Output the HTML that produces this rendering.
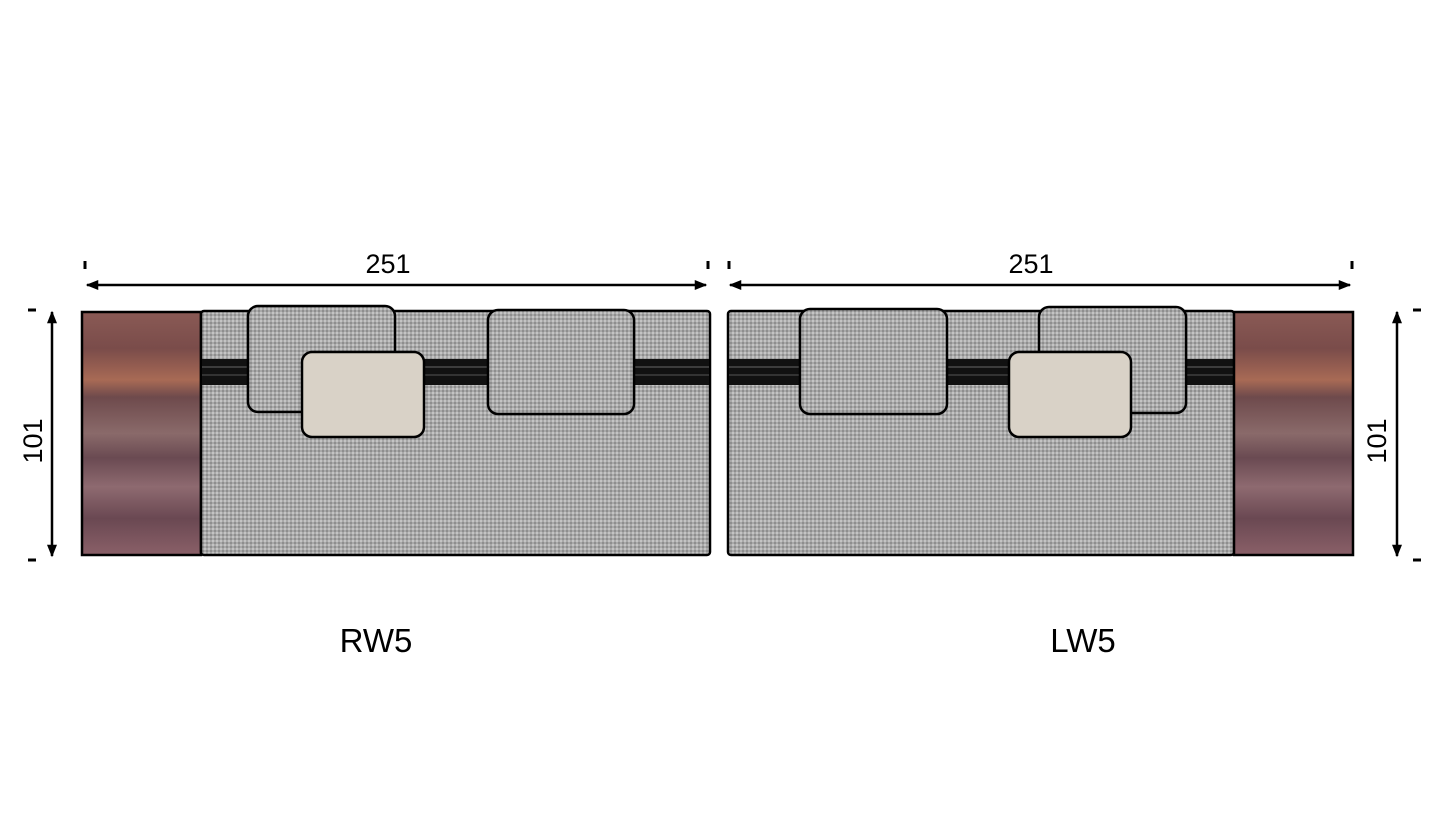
<!DOCTYPE html>
<html><head><meta charset="utf-8"><style>
html,body{margin:0;padding:0;background:#fff;}
svg{display:block;font-family:"Liberation Sans",sans-serif;}
</style></head><body>
<svg width="1445" height="813" viewBox="0 0 1445 813" xmlns="http://www.w3.org/2000/svg">
<defs>
<pattern id="fab" width="4" height="4" patternUnits="userSpaceOnUse">
<rect width="4" height="4" fill="#a9a9a9"/>
<rect width="2" height="2" fill="#c4c4c4"/>
<rect x="2" y="2" width="2" height="2" fill="#8e8e8e"/>
</pattern>
<linearGradient id="wood" x1="0" y1="0" x2="0" y2="1">
<stop offset="0" stop-color="#8a5a55"/>
<stop offset="0.15" stop-color="#7a4c4a"/>
<stop offset="0.28" stop-color="#a86a55"/>
<stop offset="0.35" stop-color="#6e4a4c"/>
<stop offset="0.5" stop-color="#8a6a6a"/>
<stop offset="0.6" stop-color="#6a4a52"/>
<stop offset="0.72" stop-color="#8e6a70"/>
<stop offset="0.85" stop-color="#6a4852"/>
<stop offset="1" stop-color="#8a6068"/>
</linearGradient>
<marker id="ar" viewBox="0 0 10 10" refX="9" refY="5" markerWidth="6" markerHeight="5" orient="auto-start-reverse"><path d="M0,1 L10,5 L0,9 z" fill="#000"/></marker>
</defs>

<g stroke="#000" stroke-width="2.5" fill="none">
<line x1="87" y1="285" x2="706" y2="285" marker-start="url(#ar)" marker-end="url(#ar)"/>
<line x1="730" y1="285" x2="1350" y2="285" marker-start="url(#ar)" marker-end="url(#ar)"/>
<line x1="52" y1="312" x2="52" y2="556" marker-start="url(#ar)" marker-end="url(#ar)"/>
<line x1="1397" y1="312" x2="1397" y2="556" marker-start="url(#ar)" marker-end="url(#ar)"/>
</g>
<g stroke="#000" stroke-width="3">
<line x1="85" y1="261" x2="85" y2="269"/><line x1="708" y1="261" x2="708" y2="269"/>
<line x1="729" y1="261" x2="729" y2="269"/><line x1="1352" y1="261" x2="1352" y2="269"/>
<line x1="28" y1="310" x2="36" y2="310"/><line x1="28" y1="560" x2="36" y2="560"/>
<line x1="1413" y1="310" x2="1421" y2="310"/><line x1="1413" y1="560" x2="1421" y2="560"/>
</g>
<text x="388" y="273" font-size="27" text-anchor="middle">251</text>
<text x="1031" y="273" font-size="27" text-anchor="middle">251</text>
<text transform="translate(42,441) rotate(-90)" font-size="27" text-anchor="middle">101</text>
<text transform="translate(1386,441) rotate(-90)" font-size="27" text-anchor="middle">101</text>
<text x="376" y="652" font-size="33" text-anchor="middle">RW5</text>
<text x="1083" y="652" font-size="33" text-anchor="middle">LW5</text>

<rect x="82" y="312" width="119" height="243" fill="url(#wood)" stroke="#000" stroke-width="2.5"/>
<rect x="201" y="311" width="509" height="244" rx="3" fill="url(#fab)" stroke="#000" stroke-width="2.5"/>
<rect x="202" y="359" width="507" height="26" fill="#111"/>
<line x1="202" y1="367" x2="709" y2="367" stroke="#666" stroke-width="1"/>
<line x1="202" y1="375" x2="709" y2="375" stroke="#555" stroke-width="1"/>
<rect x="248" y="306" width="147" height="106" rx="10" fill="url(#fab)" stroke="#000" stroke-width="2.5"/>
<rect x="488" y="310" width="146" height="104" rx="10" fill="url(#fab)" stroke="#000" stroke-width="2.5"/>
<rect x="302" y="352" width="122" height="85" rx="10" fill="#d9d2c7" stroke="#000" stroke-width="2.5"/>

<rect x="728" y="311" width="506" height="244" rx="3" fill="url(#fab)" stroke="#000" stroke-width="2.5"/>
<rect x="729" y="359" width="505" height="26" fill="#111"/>
<line x1="729" y1="367" x2="1234" y2="367" stroke="#666" stroke-width="1"/>
<line x1="729" y1="375" x2="1234" y2="375" stroke="#555" stroke-width="1"/>
<rect x="1234" y="312" width="119" height="243" fill="url(#wood)" stroke="#000" stroke-width="2.5"/>
<rect x="800" y="309" width="147" height="105" rx="10" fill="url(#fab)" stroke="#000" stroke-width="2.5"/>
<rect x="1039" y="307" width="147" height="106" rx="10" fill="url(#fab)" stroke="#000" stroke-width="2.5"/>
<rect x="1009" y="352" width="122" height="85" rx="10" fill="#d9d2c7" stroke="#000" stroke-width="2.5"/>
</svg>
</body></html>
